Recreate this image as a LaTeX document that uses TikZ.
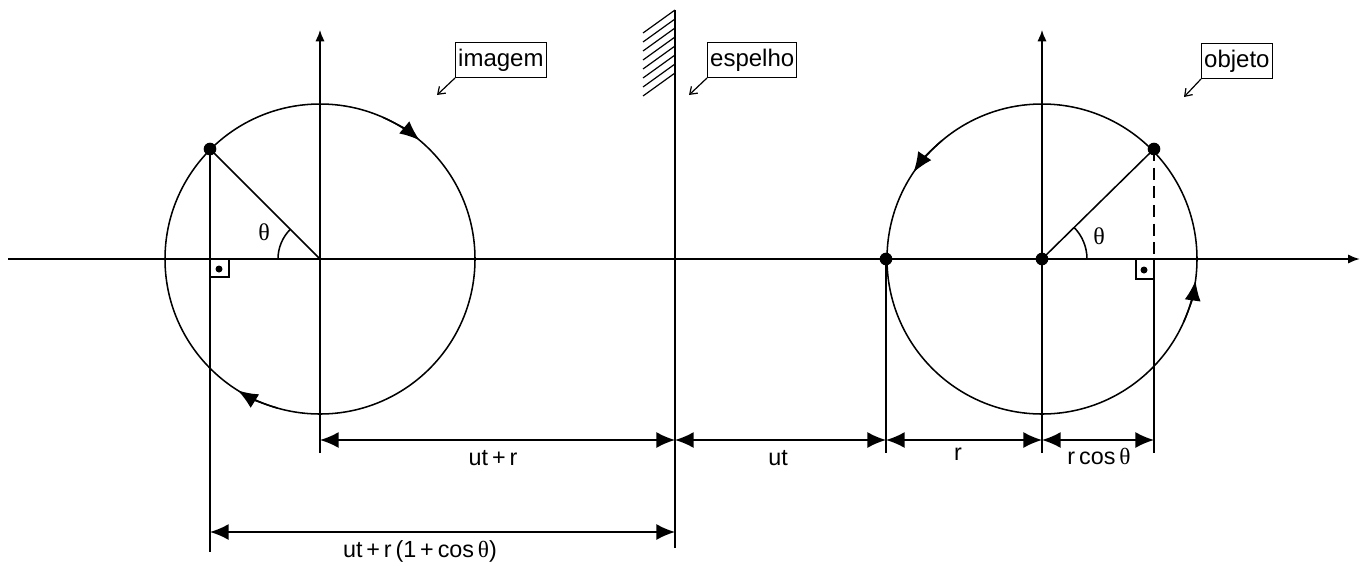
\documentclass[tikz,border=0pt]{standalone}
\usepackage{fontspec}
\setmainfont{Liberation Sans}
\newfontfamily\symf{Liberation Serif}
\usetikzlibrary{arrows.meta}
\begin{document}
\begin{tikzpicture}[x=0.75pt,y=-0.75pt,
  line/.style={line width=1.15pt},
  dim/.style={line width=1.15pt,{Latex[length=14pt,width=12pt]}-{Latex[length=14pt,width=12pt]}},
  carrow/.style={line width=1.15pt,-{Latex[length=15pt,width=12pt]}},
  lbl/.style={font=\fontsize{17.5}{19}\selectfont,inner sep=0pt},
  tag/.style={draw,line width=0.8pt,font=\fontsize{18}{20}\selectfont,inner xsep=2pt,inner ysep=1pt,minimum height=26pt},
  dotn/.style={circle,fill,inner sep=0pt,minimum size=9.5pt},
  th/.style={font=\fontsize{18}{20}\selectfont\symf,inner sep=0pt}]
\useasboundingbox (0,0) rectangle (1360,565);
% coordinates
\coordinate (CL) at (320,259);
\coordinate (CR) at (1042,259);
\coordinate (M) at (675,259);
\coordinate (PL) at (210,149);
\coordinate (PR) at (1154,149);
\coordinate (EL) at (886,259);
\coordinate (xl) at (8,259);
\coordinate (xr) at (1360,259);
% horizontal axis
\draw[line width=1.6pt,-{Latex[length=9pt,width=7pt]}] (xl) -- (xr);
% vertical axes
\coordinate (CLt) at (320,30);
\coordinate (CLb) at (320,453);
\coordinate (CRt) at (1042,30);
\coordinate (CRb) at (1042,453);
\draw[line,-{Latex[length=8.5pt,width=7pt]}] (CLb) -- (CLt);
\draw[line,-{Latex[length=8.5pt,width=7pt]}] (CRb) -- (CRt);
% mirror
\coordinate (Mt) at (675,10);
\coordinate (Mb) at (675,548);
\draw[line width=2.1pt] (Mt) -- (Mb);
\foreach \k in {0,...,7} \draw[line width=0.9pt] (675,10+9*\k) -- (643,33+9*\k);
% circles
\draw[line] (CL) circle (155);
\draw[line] (CR) circle (155);
\draw[carrow] ([shift={(CL)}]-66:155) arc[start angle=-66,end angle=-50,radius=155];
\draw[carrow] ([shift={(CL)}]106:155) arc[start angle=106,end angle=122,radius=155];
\draw[carrow] ([shift={(CR)}]-130:155) arc[start angle=-130,end angle=-146,radius=155];
\draw[carrow] ([shift={(CR)}]24:155) arc[start angle=24,end angle=8,radius=155];
% radii
\draw[line] (CL) -- (PL);
\draw[line] (CR) -- (PR);
% angle arcs
\draw[line] (278,259) arc[start angle=180,end angle=225,radius=42];
\draw[line] (1087,259) arc[start angle=0,end angle=-45,radius=45];
\node[th] (thL) at (264,232) {θ};
\node[th] (thR) at (1099,236) {θ};
% projections
\coordinate (PLb) at (210,552);
\draw[line] (PL) -- (PLb);
\coordinate (PRa) at (1154,259);
\coordinate (PRb) at (1154,453);
\draw[line,dashed,dash pattern=on 9pt off 5pt] (PR) -- (PRa);
\draw[line] (PRa) -- (PRb);
\coordinate (ELb) at (886,453);
\draw[line] (EL) -- (ELb);
% right-angle marks
\draw[line width=0.8pt] (210,277) -| (229,259);
\fill (219,269) circle (3.5);
\draw[line width=0.8pt] (1154,279) -| (1136,259);
\fill (1144,270) circle (3.5);
% dots
\node[dotn] (dPL) at (PL) {};
\node[dotn] (dPR) at (PR) {};
\node[dotn] (dCR) at (CR) {};
\node[dotn] (dEL) at (EL) {};
% dimensions
\coordinate (d1a) at (320,440); \coordinate (d1b) at (675,440);
\coordinate (d2b) at (886,440); \coordinate (d3b) at (1042,440);
\coordinate (d4b) at (1154,440);
\coordinate (d5a) at (210,532); \coordinate (d5b) at (675,532);
\draw[dim] (d1a) -- (d1b);
\draw[dim] (d1b) -- (d2b);
\draw[dim] (d2b) -- (d3b);
\draw[dim] (d3b) -- (d4b);
\draw[dim] (d5a) -- (d5b);
\node[lbl] (l1) at (493,458) {ut\,+\,r};
\node[lbl] (l2) at (778,458) {ut};
\node[lbl] (l3) at (958,454) {r};
\node[lbl] (l4) at (1099,456) {r\,cos\,{\symf θ}};
\node[lbl] (l5) at (420,551) {ut\,+\,r\,(1\,+\,cos\,{\symf θ})};
% tags
\node[tag,anchor=south west] (timg) at (455,78) {imagem};
\node[tag,anchor=south west] (tesp) at (707,78) {espelho};
\node[tag,anchor=south west] (tobj) at (1201,79) {objeto};
\coordinate (aimg) at (437,95);
\coordinate (aesp) at (689,95);
\coordinate (aobj) at (1184,97);
\draw[line width=0.9pt,-{Straight Barb[length=5pt,width=7pt]}] (timg.south west) -- (aimg);
\draw[line width=0.9pt,-{Straight Barb[length=5pt,width=7pt]}] (tesp.south west) -- (aesp);
\draw[line width=0.9pt,-{Straight Barb[length=5pt,width=7pt]}] (tobj.south west) -- (aobj);
\end{tikzpicture}
\end{document}
